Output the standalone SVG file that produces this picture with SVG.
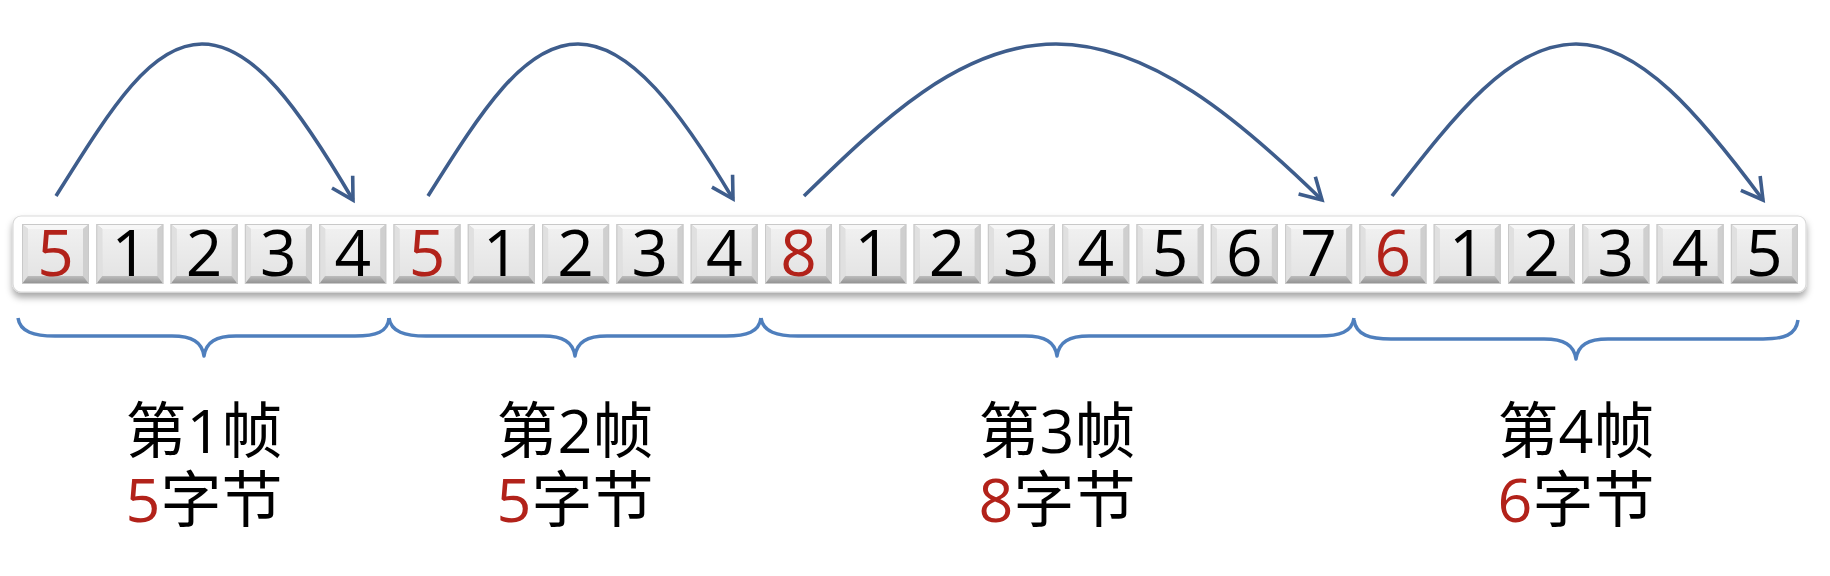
<svg xmlns="http://www.w3.org/2000/svg" xmlns:xlink="http://www.w3.org/1999/xlink" width="1830" height="576" viewBox="0 0 1830 576">
<style>
.d{font-family:"Open Sans","Noto Sans CJK SC",sans-serif;font-size:64px;text-anchor:middle;fill:#000}
.r{fill:#b2221a}
.lb{font-family:"Open Sans","Noto Sans CJK SC",sans-serif;font-size:61px;text-anchor:middle;fill:#000}
.arc{fill:none;stroke:#3e5d8c;stroke-width:3.6;stroke-linecap:butt}
.brace{fill:none;stroke:#4f7fbd;stroke-width:3.5;stroke-linejoin:round}
</style>
<defs>
<filter id="sh" x="-5%" y="-30%" width="110%" height="180%">
<feDropShadow dx="0" dy="5" stdDeviation="3.5" flood-color="#000" flood-opacity="0.35"/>
</filter>
<linearGradient id="face" x1="0" y1="0" x2="0" y2="1">
<stop offset="0" stop-color="#f0f0f0"/><stop offset="1" stop-color="#e4e4e4"/>
</linearGradient>
<linearGradient id="bot" x1="0" y1="0" x2="0" y2="1">
<stop offset="0" stop-color="#bdbdbd"/><stop offset="1" stop-color="#8e8e8e"/>
</linearGradient>
<marker id="arr" viewBox="-25 -15 30 30" refX="0" refY="0" markerWidth="30" markerHeight="30" markerUnits="userSpaceOnUse" orient="auto">
<path d="M-21,-12 L0,0 L-21,12" fill="none" stroke="#3e5d8c" stroke-width="3.6"/>
</marker>
<g id="key">
<rect x="0" y="0" width="67" height="60" fill="#d0d0d0"/>
<polygon points="0,0 67,0 61,5 6,5" fill="#f7f7f7"/>
<polygon points="0,0 6,5 6,52 0,60" fill="#e0e0e0"/>
<polygon points="67,0 67,60 61,52 61,5" fill="#cfcfcf"/>
<polygon points="0,60 6,52 61,52 67,60" fill="url(#bot)"/>
<rect x="6" y="5" width="55" height="47" fill="url(#face)"/>
<rect x="0.5" y="0.5" width="66" height="59" fill="none" stroke="#c9c9c9" stroke-width="1"/>
</g>
</defs>
<rect width="1830" height="576" fill="#fff"/>

<g id="container">
<rect x="13" y="216" width="1793" height="76" rx="8" fill="#fff" stroke="#dadada" stroke-width="1.2" filter="url(#sh)"/>
</g>

<g id="keys">
<g id="k0"><use href="#key" x="22" y="224"/><text class="d r" x="55.5" y="276">5</text></g>
<g id="k1"><use href="#key" x="96.3" y="224"/><text class="d" x="129.8" y="276">1</text></g>
<g id="k2"><use href="#key" x="170.6" y="224"/><text class="d" x="204.1" y="276">2</text></g>
<g id="k3"><use href="#key" x="244.9" y="224"/><text class="d" x="278.4" y="276">3</text></g>
<g id="k4"><use href="#key" x="319.2" y="224"/><text class="d" x="352.7" y="276">4</text></g>
<g id="k5"><use href="#key" x="393.5" y="224"/><text class="d r" x="427" y="276">5</text></g>
<g id="k6"><use href="#key" x="467.8" y="224"/><text class="d" x="501.3" y="276">1</text></g>
<g id="k7"><use href="#key" x="542.1" y="224"/><text class="d" x="575.6" y="276">2</text></g>
<g id="k8"><use href="#key" x="616.4" y="224"/><text class="d" x="649.9" y="276">3</text></g>
<g id="k9"><use href="#key" x="690.7" y="224"/><text class="d" x="724.2" y="276">4</text></g>
<g id="k10"><use href="#key" x="765" y="224"/><text class="d r" x="798.5" y="276">8</text></g>
<g id="k11"><use href="#key" x="839.3" y="224"/><text class="d" x="872.8" y="276">1</text></g>
<g id="k12"><use href="#key" x="913.6" y="224"/><text class="d" x="947.1" y="276">2</text></g>
<g id="k13"><use href="#key" x="987.9" y="224"/><text class="d" x="1021.4" y="276">3</text></g>
<g id="k14"><use href="#key" x="1062.2" y="224"/><text class="d" x="1095.7" y="276">4</text></g>
<g id="k15"><use href="#key" x="1136.5" y="224"/><text class="d" x="1170" y="276">5</text></g>
<g id="k16"><use href="#key" x="1210.8" y="224"/><text class="d" x="1244.3" y="276">6</text></g>
<g id="k17"><use href="#key" x="1285.1" y="224"/><text class="d" x="1318.6" y="276">7</text></g>
<g id="k18"><use href="#key" x="1359.4" y="224"/><text class="d r" x="1392.9" y="276">6</text></g>
<g id="k19"><use href="#key" x="1433.7" y="224"/><text class="d" x="1467.2" y="276">1</text></g>
<g id="k20"><use href="#key" x="1508" y="224"/><text class="d" x="1541.5" y="276">2</text></g>
<g id="k21"><use href="#key" x="1582.3" y="224"/><text class="d" x="1615.8" y="276">3</text></g>
<g id="k22"><use href="#key" x="1656.6" y="224"/><text class="d" x="1690.1" y="276">4</text></g>
<g id="k23"><use href="#key" x="1730.9" y="224"/><text class="d" x="1764.4" y="276">5</text></g>
</g>

<g id="connectors">
<path class="arc" marker-end="url(#arr)" d="M56,196 C110,110 150,44 202,44 C254,44 300,110 353,200"/>
<path class="arc" marker-end="url(#arr)" d="M428,196 C482,110 524,44 578,44 C630,44 680,110 733,199"/>
<path class="arc" marker-end="url(#arr)" d="M804,196 C880,122 960,44 1056,44 C1150,44 1240,120 1322,200"/>
<path class="arc" marker-end="url(#arr)" d="M1392,196 C1455,115 1510,44 1576,44 C1640,44 1700,115 1763,200"/>
</g>

<g id="braces">
<path class="brace" d="M18,318 C20,332 34,336 55,336 L172,336 C192,336 202,342 204,356 C206,342 216,336 236,336 L355,336 C376,336 388,332 389,318"/>
<path class="brace" d="M389,318 C391,332 405,336 426,336 L543,336 C563,336 573,342 575,356 C577,342 587,336 607,336 L726,336 C747,336 759,332 761,318"/>
<path class="brace" d="M761,318 C763,332 777,336 798,336 L1025,336 C1045,336 1055,342 1057,356 C1059,342 1069,336 1089,336 L1319,336 C1340,336 1352,332 1354,318"/>
<path class="brace" d="M1354,320 C1356,335 1370,339 1391,339 L1544,339 C1564,339 1574,345 1576,359 C1578,345 1588,339 1608,339 L1763,339 C1784,339 1796,335 1798,320"/>
</g>

<g id="label1"><text class="lb" x="204" y="453">第1帧<tspan x="204" y="522"><tspan class="r">5</tspan>字节</tspan></text></g>
<g id="label2"><text class="lb" x="575" y="453">第2帧<tspan x="575" y="522"><tspan class="r">5</tspan>字节</tspan></text></g>
<g id="label3"><text class="lb" x="1057" y="453">第3帧<tspan x="1057" y="522"><tspan class="r">8</tspan>字节</tspan></text></g>
<g id="label4"><text class="lb" x="1576" y="453">第4帧<tspan x="1576" y="522"><tspan class="r">6</tspan>字节</tspan></text></g>
</svg>
